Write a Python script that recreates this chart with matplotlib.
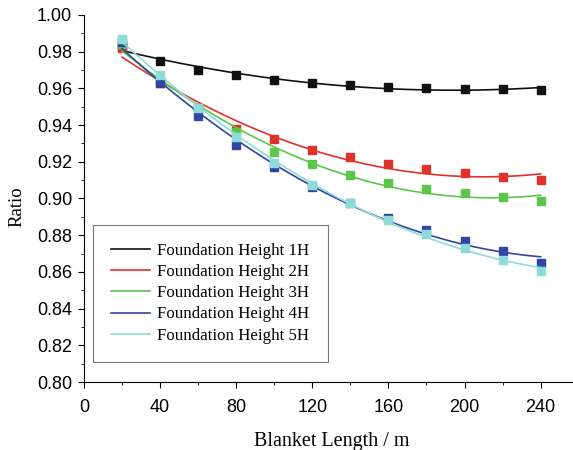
import numpy as np
import matplotlib
matplotlib.use("Agg")
import matplotlib.pyplot as plt
from matplotlib.ticker import MultipleLocator

length = [20, 40, 60, 80, 100, 120, 140, 160, 180, 200, 220, 240]
h1 = [0.983, 0.975, 0.970, 0.967, 0.9646, 0.9629, 0.9617, 0.9608, 0.9602, 0.9597, 0.9594, 0.9590]
h2 = [0.982, 0.963, 0.949, 0.938, 0.9322, 0.9264, 0.9225, 0.9188, 0.9159, 0.9137, 0.9119, 0.9100]
h3 = [0.984, 0.964, 0.949, 0.936, 0.9255, 0.9188, 0.9130, 0.9086, 0.9053, 0.9028, 0.9006, 0.8985]
h4 = [0.985, 0.963, 0.945, 0.929, 0.917, 0.9064, 0.8975, 0.8892, 0.8828, 0.8768, 0.8712, 0.8650]
h5 = [0.987, 0.967, 0.949, 0.9333, 0.9195, 0.9074, 0.8974, 0.8883, 0.8805, 0.8729, 0.8665, 0.8605]
labels = ["Foundation Height 1H", "Foundation Height 2H", "Foundation Height 3H",
          "Foundation Height 4H", "Foundation Height 5H"]
colors = ["#111111", "#e2302a", "#5cc54a", "#2f46a3", "#8ddcd8"]

fig = plt.figure(figsize=(5.73, 4.5), dpi=100)
ax = fig.add_axes([0.1466, 0.151, 0.8534, 0.816])

x = np.array(length)
xs = np.linspace(20, 240, 200)
for ys, c, lab in zip([h1, h2, h3, h4, h5], colors, labels):
    # fitted trend line through the points
    p = np.polyfit(x, ys, 2)
    ax.plot(xs, np.polyval(p, xs), color=c, lw=1.2, label=lab)
    ax.plot(x, ys, "s", color=c, ms=6.2, mec=c)

ax.set_xlim(0, 257)
ax.set_ylim(0.80, 1.00)
ax.xaxis.set_major_locator(MultipleLocator(40))
ax.xaxis.set_minor_locator(MultipleLocator(20))
ax.yaxis.set_major_locator(MultipleLocator(0.02))
ax.yaxis.set_minor_locator(MultipleLocator(0.01))
ax.yaxis.set_major_formatter(matplotlib.ticker.FormatStrFormatter("%.2f"))
ax.spines["top"].set_visible(False)
ax.spines["right"].set_visible(False)
ax.tick_params(which="major", direction="out", length=4.5, labelsize=13)
ax.tick_params(axis="x", which="major", pad=7.5)
ax.tick_params(axis="y", which="major", pad=4)
ax.tick_params(which="minor", direction="out", length=2.5)
for t in ax.get_xticklabels() + ax.get_yticklabels():
    t.set_family("Liberation Sans")

ax.set_xlabel("Blanket Length / m", family="Liberation Serif", fontsize=14.5, va="center")
ax.set_ylabel("Ratio", family="Liberation Serif", fontsize=13.5, va="center")
ax.xaxis.set_label_coords(0.507, -0.162)
ax.yaxis.set_label_coords(-0.137, 0.477)

leg = ax.legend(loc="lower left", bbox_to_anchor=(0.018, 0.054), borderaxespad=0,
                fancybox=False, prop={"family": "Liberation Serif", "size": 12.2},
                handlelength=2.3, handletextpad=0.4, labelspacing=0.3,
                borderpad=1.1, edgecolor="#555555")
leg.get_frame().set_linewidth(0.8)

fig.savefig("out.png", dpi=100)
